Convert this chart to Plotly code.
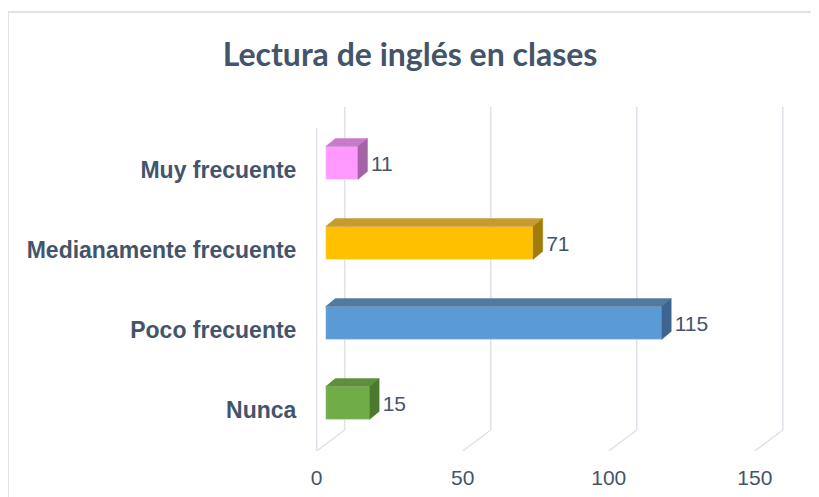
import plotly.graph_objects as go

# ---- data ----
categories = ["Nunca", "Poco frecuente", "Medianamente frecuente", "Muy frecuente"]
values = [15, 115, 71, 11]
front_colors = ["#70AD47", "#5B9BD5", "#FFC000", "#FF99FF"]
top_colors = ["#5E903C", "#52799F", "#C99B2E", "#C97BC9"]
side_colors = ["#4B7A2F", "#3D6590", "#A07C0C", "#A463A4"]
x_ticks = [0, 50, 100, 150]
title_text = "Lectura de inglés en clases"

# ---- geometry (depth offsets in data units) ----
pos = list(range(len(categories)))
bar_w = 0.41
dx, dy = 3.3, 0.1           # 3-D depth of bars
back_dx, front_dx = 6.5, -3.1  # grid wall planes
x_range = [-4, 160]
y_range = [-0.6, 3.7]

fig = go.Figure()

# gridlines drawn as 3-D wall lines
shapes = []
gcol = "#DDE1E8"
for v in x_ticks:
    shapes.append(dict(type="line", xref="x", yref="y", x0=v + back_dx, x1=v + back_dx,
                       y0=3.7, y1=-0.3375, line=dict(color=gcol, width=1.5), layer="below"))
    shapes.append(dict(type="line", xref="x", yref="y", x0=v + back_dx, x1=v + front_dx,
                       y0=-0.3375, y1=-0.6, line=dict(color=gcol, width=1.5), layer="below"))
shapes.append(dict(type="line", xref="x", yref="y", x0=front_dx, x1=front_dx,
                   y0=3.4375, y1=-0.6, line=dict(color=gcol, width=1.5), layer="below"))
# chart border
shapes.append(dict(type="rect", xref="paper", yref="paper", x0=-0.639, x1=2.0, y0=-1.0, y1=1.276,
                   line=dict(color="#D9D9D9", width=1.5), fillcolor="rgba(0,0,0,0)", layer="below"))

# front faces
fig.add_trace(go.Bar(
    y=pos, x=values, orientation="h", width=bar_w,
    marker=dict(color=front_colors, line=dict(color="rgba(255,255,255,0.35)", width=1)),
    hoverinfo="x+y", showlegend=False,
))

# top and side faces computed from values
for i, v in enumerate(values):
    yt = pos[i] + bar_w / 2
    yb = pos[i] - bar_w / 2
    fig.add_trace(go.Scatter(
        x=[0, v, v + dx, dx, 0], y=[yt, yt, yt + dy, yt + dy, yt],
        fill="toself", fillcolor=top_colors[i], mode="lines",
        line=dict(color=top_colors[i], width=0.5), hoverinfo="skip", showlegend=False))
    fig.add_trace(go.Scatter(
        x=[v, v, v + dx, v + dx, v], y=[yb, yt, yt + dy, yb + dy, yb],
        fill="toself", fillcolor=side_colors[i], mode="lines",
        line=dict(color=side_colors[i], width=0.5), hoverinfo="skip", showlegend=False))

# data labels
fig.add_trace(go.Scatter(
    x=[v + dx + 1.2 for v in values], y=[p - 0.03 for p in pos],
    mode="text", text=[str(v) for v in values], textposition="middle right",
    textfont=dict(family="Liberation Sans, Arial", size=21, color="#44546A"),
    hoverinfo="skip", showlegend=False, cliponaxis=False))

fig.update_layout(
    width=819, height=497,
    margin=dict(l=306, r=34, t=99, b=54),
    paper_bgcolor="white", plot_bgcolor="white",
    title=dict(text=title_text, x=(410 - 8) / 819, xanchor="center", y=1 - 47 / 497, yanchor="middle",
               font=dict(family="Lato", size=32, color="#44546A", weight="bold")),
    shapes=shapes,
    xaxis=dict(range=x_range, tickvals=x_ticks, ticktext=[str(t) for t in x_ticks],
               showgrid=False, zeroline=False, showline=False,
               ticks="outside", ticklen=8, tickcolor="rgba(0,0,0,0)",
               ticklabelshift=-9,
               tickfont=dict(family="Liberation Sans, Arial", size=21, color="#44546A")),
    yaxis=dict(range=y_range, tickvals=[p - 0.09 for p in pos], ticktext=categories,
               showgrid=False, zeroline=False, showline=False,
               ticks="outside", ticklen=12, tickcolor="rgba(0,0,0,0)",
               tickfont=dict(family="Liberation Sans, Arial", size=23, color="#44546A", weight="bold")),
)

fig.write_html("out.html")
